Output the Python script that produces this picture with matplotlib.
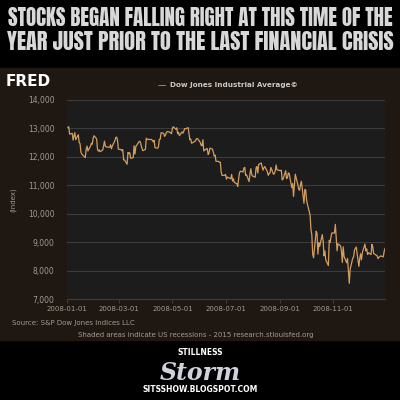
import matplotlib
matplotlib.use("Agg")
import matplotlib.pyplot as plt
import matplotlib.dates as mdates
import pandas as pd

# DJIA daily closes, 2008, one list per month
JAN = [13044, 13057, 12800, 12827, 12589, 12736, 12853, 12606, 12778, 12501, 12466,
       12159, 12099, 11971, 12271, 12379, 12207, 12383, 12480, 12442, 12650]
FEB = [12743, 12635, 12265, 12200, 12247, 12182, 12240, 12374, 12552, 12376, 12348,
       12338, 12427, 12284, 12381, 12570, 12684, 12694, 12582, 12266]
MAR = [12258, 12213, 12254, 11893, 11894, 11740, 12156, 12111, 12146, 11952, 11972,
       12392, 12099, 12361, 12548, 12533, 12422, 12302, 12216, 12263]
APR = [12654, 12608, 12627, 12609, 12613, 12577, 12527, 12581, 12325, 12302, 12362,
       12619, 12620, 12849, 12825, 12721, 12763, 12849, 12891, 12871, 12832, 12820]
MAY = [13010, 13058, 12969, 13020, 12814, 12866, 12745, 12876, 12832, 12898, 12992,
       12986, 13028, 12828, 12601, 12625, 12480, 12548, 12594, 12646, 12638]
JUN = [12503, 12402, 12391, 12604, 12209, 12280, 12289, 12083, 12141, 12307, 12269,
       12160, 12029, 12063, 11843, 11842, 11808, 11812, 11453, 11346, 11350]
JUL = [11382, 11216, 11288, 11231, 11384, 11148, 11229, 11100, 11055, 10962, 11239,
       11446, 11496, 11467, 11602, 11632, 11349, 11370, 11131, 11397, 11584, 11378]
AUG = [11326, 11284, 11616, 11656, 11431, 11734, 11782, 11642, 11532, 11616, 11659,
       11479, 11348, 11417, 11430, 11628, 11386, 11413, 11502, 11715, 11543]
SEP = [11516, 11532, 11188, 11220, 11511, 11231, 11268, 11434, 11421, 10918, 11059,
       10610, 11020, 11388, 11016, 10854, 10825, 11023, 11143, 10365, 10851]
OCT = [10831, 10483, 10325, 9955, 9447, 9258, 8579, 8451, 9387, 9311, 8578, 8979,
       8852, 9265, 9034, 8519, 8691, 8378, 8175, 9065, 8991, 9180, 9325]
NOV = [9319, 9625, 9139, 8695, 8943, 8870, 8693, 8283, 8835, 8497, 8273, 8424, 7997,
       7552, 8046, 8443, 8479, 8726, 8829]
DEC = [8149, 8419, 8591, 8376, 8635, 8934, 8691, 8761, 8565, 8629, 8564, 8924, 8824,
       8604, 8579, 8519, 8419, 8468, 8515, 8483, 8668, 8776]

HOLIDAYS = ["2008-01-01", "2008-01-21", "2008-02-18", "2008-03-21", "2008-05-26",
            "2008-07-04", "2008-09-01", "2008-11-27", "2008-12-25"]
YTICKS = [7000, 8000, 9000, 10000, 11000, 12000, 13000, 14000]
XTICKS = ["2008-01-01", "2008-03-01", "2008-05-01", "2008-07-01", "2008-09-01", "2008-11-01"]

values = JAN + FEB + MAR + APR + MAY + JUN + JUL + AUG + SEP + OCT + NOV + DEC
days = pd.bdate_range("2008-01-01", "2008-12-31")
days = days[~days.isin(pd.to_datetime(HOLIDAYS))]

PANEL = "#1f1712"
TXT = "#a39b8f"

fig = plt.figure(figsize=(4, 4), dpi=100, facecolor="black")
fig.patches.append(plt.Rectangle((0, 0.15), 1, 0.68, transform=fig.transFigure,
                                 color=PANEL, zorder=-5))

fig.text(0.5, 0.954, "Stocks Began Falling Right At This Time Of The".upper(),
         ha="center", va="center", color="#d8d8d8", fontsize=15.1, family="Anton")
fig.text(0.5, 0.896, "Year Just Prior To The Last Financial Crisis".upper(),
         ha="center", va="center", color="#d8d8d8", fontsize=16, family="Anton")

ax = fig.add_axes([0.1675, 0.2525, 0.795, 0.4975], zorder=2)
ax.set_facecolor("#1c1c1c")
ax.plot(days, values, color="#d29d5e", lw=0.9)
ax.set_ylim(7000, 14000)
ax.set_xlim(pd.Timestamp("2008-01-01"), pd.Timestamp("2008-12-31"))
ax.set_yticks(YTICKS)
ax.set_yticklabels([f"{v:,}" for v in YTICKS])
ax.set_xticks(pd.to_datetime(XTICKS))
ax.xaxis.set_major_formatter(mdates.DateFormatter("%Y-%m-%d"))
ax.grid(axis="y", color="#3c3c3c", lw=0.8)
ax.set_axisbelow(True)
for s in ax.spines.values():
    s.set_visible(False)
ax.spines["bottom"].set_visible(True)
ax.spines["bottom"].set_color("#3c3c3c")
ax.tick_params(axis="y", length=0, pad=9, labelsize=5.5, labelcolor=TXT)
ax.tick_params(axis="x", length=3, color="#3c3c3c", pad=2, labelsize=5, labelcolor=TXT)
ax.set_ylabel("(Index)", color=TXT, fontsize=5, labelpad=8)

fig.text(0.013, 0.795, "FRED", color="white", fontsize=11, weight="bold", va="center")
fig.text(0.393, 0.787, "\u2014", color="#d29d5e", fontsize=6, va="center")
fig.text(0.425, 0.787, "Dow Jones Industrial Average\u00a9", color="#c8c8c8",
         fontsize=5.2, weight="bold", va="center")
fig.text(0.03, 0.192, "Source: S&P Dow Jones Indices LLC", color=TXT, fontsize=5, va="center")
fig.text(0.49, 0.162, "Shaded areas indicate US recessions - 2015 research.stlouisfed.org",
         color=TXT, fontsize=5, va="center", ha="center")

fig.text(0.5, 0.112, "STILLNESS", color="white", fontsize=5.5, weight="bold", ha="center")
fig.text(0.5, 0.05, "Storm", color="#cfd2dc", fontsize=17, weight="bold", ha="center",
         family="DejaVu Serif", style="italic")
fig.text(0.5, 0.027, "SITSSHOW.BLOGSPOT.COM", color="white", fontsize=5.5, weight="bold",
         ha="center", va="center")

fig.savefig("out.png", dpi=100, facecolor="black")
